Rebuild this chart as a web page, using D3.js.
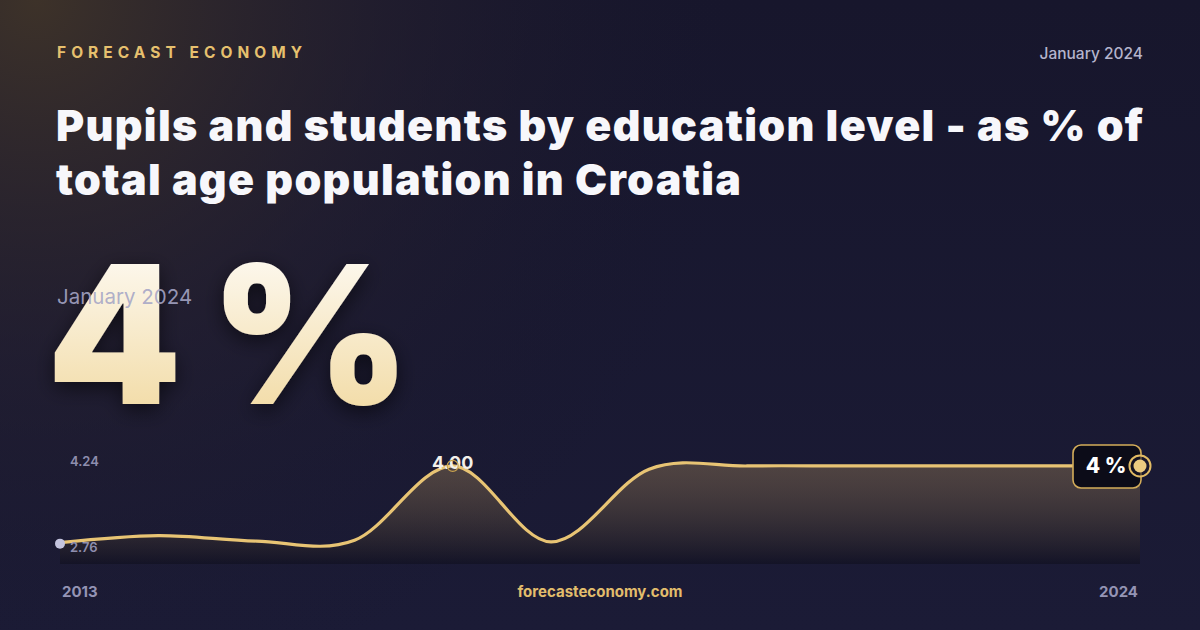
<!DOCTYPE html>
<html><head><meta charset="utf-8">
<script src="https://cdn.jsdelivr.net/npm/d3@7"></script>
<style>
html,body{margin:0;padding:0;background:#161630;}
svg{display:block;font-family:Inter,"Noto Sans",sans-serif;}
</style></head>
<body>
<svg id="c" width="1200" height="630"></svg>
<script>
const years = [2013,2014,2015,2016,2017,2018,2019,2020,2021,2022,2023,2024];
const values = [3.03,3.12,3.05,3.06,4.00,3.04,3.96,4.00,4.00,4.00,4.00,4.00];
const yLabels = ["4.24","2.76"];
const xLabels = ["2013","2024"];
const titleLines = ["Pupils and students by education level - as % of","total age population in Croatia"];
const headline = "4 %";
const dateLabel = "January 2024";
const peakLabel = "4.00";
const peakYear = 2017;
const brand = "FORECAST ECONOMY";
const site = "forecasteconomy.com";

const W=1200,H=630;
const svg=d3.select("#c");
const defs=svg.append("defs");

function fit(sel, target){
  const n=sel.text().length;
  const w=sel.node().getComputedTextLength();
  const ls=(target-w)/Math.max(1,n-1);
  sel.attr("letter-spacing",ls);
  return ls;
}

// background
const bg=defs.append("linearGradient").attr("id","bg").attr("x1",0).attr("y1",0).attr("x2",0).attr("y2",1);
bg.append("stop").attr("offset","0%").attr("stop-color","#17162c");
bg.append("stop").attr("offset","100%").attr("stop-color","#1b1b36");
const glow=defs.append("radialGradient").attr("id","glow").attr("cx",0.03).attr("cy",0).attr("r",0.6)
  .attr("gradientTransform","scale(1,1.9)");
glow.append("stop").attr("offset","0%").attr("stop-color","#3d3229").attr("stop-opacity",1);
glow.append("stop").attr("offset","50%").attr("stop-color","#28222f").attr("stop-opacity",0.5);
glow.append("stop").attr("offset","100%").attr("stop-color","#17162c").attr("stop-opacity",0);
svg.append("rect").attr("width",W).attr("height",H).attr("fill","url(#bg)");
svg.append("rect").attr("width",W).attr("height",H).attr("fill","url(#glow)");

// header
const br=svg.append("text").attr("x",57).attr("y",58).text(brand)
  .attr("fill","#e6c06e").attr("font-size",15.5).attr("font-weight",700);
fit(br,245);
svg.append("text").attr("x",1143).attr("y",59).attr("text-anchor","end").text(dateLabel)
  .attr("fill","#b4b4cc").attr("font-size",15.5).attr("font-weight",500);

// title
const tl=svg.append("g").selectAll("text").data(titleLines).join("text")
  .attr("x",56).attr("y",(d,i)=>141+i*54).text(d=>d)
  .attr("fill","#f7f7fb").attr("font-size",43).attr("font-weight",900);
const ls=fit(d3.select(tl.nodes()[0]),1087);
tl.attr("letter-spacing",ls);

// big number
const tg=defs.append("linearGradient").attr("id","tg").attr("x1",0).attr("y1",0).attr("x2",0).attr("y2",1);
tg.append("stop").attr("offset","0%").attr("stop-color","#ffffff");
tg.append("stop").attr("offset","100%").attr("stop-color","#f0d596");
const sh=defs.append("filter").attr("id","sh").attr("x","-20%").attr("y","-20%").attr("width","140%").attr("height","140%");
sh.append("feDropShadow").attr("dx",0).attr("dy",6).attr("stdDeviation",10).attr("flood-color","#000").attr("flood-opacity",0.55);
svg.append("text").attr("x",47).attr("y",404).text(headline)
  .attr("fill","url(#tg)").attr("font-size",192).attr("font-weight",900).attr("letter-spacing",-5)
  .attr("filter","url(#sh)");
svg.append("text").attr("x",57).attr("y",304).text(dateLabel)
  .attr("fill","#a6a6c6").attr("fill-opacity",0.9).attr("font-size",20.5).attr("font-weight",400);

// chart
const x=d3.scaleLinear().domain([years[0],years[years.length-1]]).range([60,1140]);
const y=d3.scaleLinear().domain([+yLabels[1],+yLabels[0]]).range([564,447]);
const ag=defs.append("linearGradient").attr("id","ag").attr("x1",0).attr("y1",0).attr("x2",0).attr("y2",1);
ag.append("stop").attr("offset","0%").attr("stop-color","#b08f5c").attr("stop-opacity",0.36);
ag.append("stop").attr("offset","100%").attr("stop-color","#0e0e1c").attr("stop-opacity",0.55);
const pts=years.map((yr,i)=>[yr,values[i]]);
const area=d3.area().x(d=>x(d[0])).y0(564).y1(d=>y(d[1])).curve(d3.curveCardinal);
const line=d3.line().x(d=>x(d[0])).y(d=>y(d[1])).curve(d3.curveCardinal);
svg.append("path").datum(pts).attr("d",area).attr("fill","url(#ag)");
svg.append("path").datum(pts).attr("d",line).attr("fill","none").attr("stroke","#e8c474").attr("stroke-width",3.2);

// y labels
svg.append("text").attr("x",70).attr("y",466).text(yLabels[0]).attr("fill","#8e8eae").attr("font-size",13).attr("font-weight",600);
svg.append("text").attr("x",70).attr("y",552).text(yLabels[1]).attr("fill","#8e8eae").attr("font-size",13).attr("font-weight",600);

// start dot
svg.append("circle").attr("cx",x(years[0])).attr("cy",y(values[0])+1).attr("r",5).attr("fill","#c4c4de");

// peak annotation
const pv=values[years.indexOf(peakYear)];
svg.append("text").attr("x",x(peakYear)).attr("y",y(pv)+3).attr("text-anchor","middle").text(peakLabel)
  .attr("fill","#f2f0ea").attr("font-size",18).attr("font-weight",700);
svg.append("circle").attr("cx",x(peakYear)).attr("cy",y(pv)).attr("r",5.5).attr("fill","none")
  .attr("stroke","#c9a24e").attr("stroke-width",1.3);

// end badge
const ex=x(years[years.length-1]), ey=y(values[values.length-1]);
svg.append("rect").attr("x",1073).attr("y",ey-21).attr("width",68).attr("height",43).attr("rx",8)
  .attr("fill","#0c0c18").attr("stroke","#d4ad5a").attr("stroke-width",1.6);
svg.append("text").attr("x",1106).attr("y",ey+7).attr("text-anchor","middle").text(headline)
  .attr("fill","#ffffff").attr("font-size",21).attr("font-weight",800);
svg.append("circle").attr("cx",ex).attr("cy",ey).attr("r",10.5).attr("fill","#1a1828").attr("fill-opacity",0.6)
  .attr("stroke","#e2bb64").attr("stroke-width",2);
svg.append("circle").attr("cx",ex).attr("cy",ey).attr("r",6.5).attr("fill","#eccb80");

// x labels + site
svg.append("text").attr("x",62).attr("y",597).text(xLabels[0]).attr("fill","#9494b4").attr("font-size",15).attr("font-weight",700);
svg.append("text").attr("x",1138).attr("y",597).attr("text-anchor","end").text(xLabels[1]).attr("fill","#9494b4").attr("font-size",15).attr("font-weight",700);
svg.append("text").attr("x",600).attr("y",597).attr("text-anchor","middle").text(site).attr("fill","#e2bd6c").attr("font-size",15).attr("font-weight",700);
</script>
</body></html>
